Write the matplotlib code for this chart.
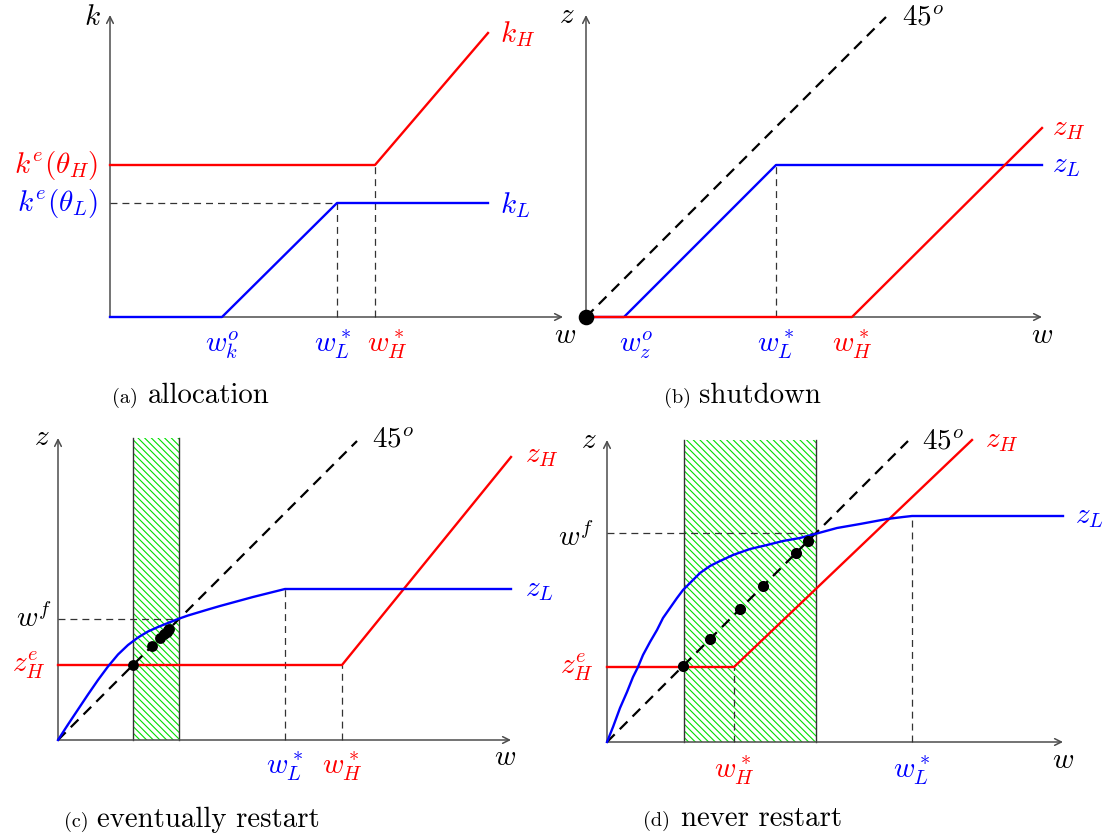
import numpy as np
import matplotlib
matplotlib.use("Agg")
import matplotlib.pyplot as plt
from matplotlib.patches import Rectangle

plt.rcParams["mathtext.fontset"] = "cm"
plt.rcParams["lines.scale_dashes"] = False
plt.rcParams["hatch.linewidth"] = 0.4

W, H = 1117, 836
DPI = 200

RED = "#ff0000"
BLUE = "#0000ff"
GREEN = "#00e000"
AXC = "0.3"

# panel (a) allocation  (units: w to the right, k up, origin at 0)
A_XLEN, A_YLEN = 453, 302
A_KH_W = [0, 265, 378]
A_KH_K = [152, 152, 284]
A_KL_W = [0, 112, 227, 378]
A_KL_K = [0, 0, 114, 114]
A_WKO, A_WL, A_WH = 112, 227, 265
A_KEH, A_KEL = 152, 114

# panel (b) shutdown
B_XLEN, B_YLEN, B_DIAG = 456, 302, 300
B_ZL_W = [0, 38, 190, 456]
B_ZL_Z = [0, 0, 152, 152]
B_ZH_W = [0, 266, 456]
B_ZH_Z = [0, 0, 189]
B_WZO, B_WL, B_WH = 38, 190, 266

# panel (c) eventually restart
C_XLEN, C_YLEN, C_DIAG = 453, 302, 299
C_BAND = (75, 121)
C_ZH_W = [0, 284, 453]
C_ZH_Z = [75, 75, 283]
C_ZL_W = [0, 10, 20, 30, 40, 50, 60, 70, 80, 90, 100, 110, 120, 130, 140,
          150, 162, 195, 227, 453]
C_ZL_Z = [0, 15.5, 30.5, 45.5, 60, 73.5, 85.5, 95, 102.5, 108.5, 113, 117,
          121, 124.5, 127.5, 130.5, 134, 143, 151, 151]
C_WF, C_ZEH, C_WL, C_WH = 121, 75, 227, 284
C_DOTS = [75, 94, 102, 106, 108.5, 110, 111]

# panel (d) never restart
D_XLEN, D_YLEN, D_DIAG = 456, 302, 301
D_BAND = (77, 209)
D_ZH_W = [0, 127, 365]
D_ZH_Z = [75, 75, 302]
D_ZL_W = [0, 6, 13, 20, 26, 31, 36, 43, 50, 56, 63, 70, 76, 83, 93, 103, 113,
          126, 143, 160, 176, 193, 208, 230, 253, 280, 296, 305, 456]
D_ZL_Z = [0, 15, 34, 50, 65, 75, 87, 100, 112, 124, 134, 144, 152, 159, 169,
          176, 181, 187, 193, 197, 201, 204, 208, 214, 218, 223, 225, 226, 226]
D_WF, D_ZEH, D_WH, D_WL = 209, 75, 127, 305
D_DOTS = [76, 103, 133, 156, 189, 201]

FS = 10.5
THIN = dict(color="0.2", lw=0.45, dashes=(2.5, 1.8), zorder=3)
DIAG = dict(color="k", lw=0.8, dashes=(3.9, 2.6), zorder=3)
CURVE = dict(lw=0.85, zorder=4, solid_joinstyle="round")

fig = plt.figure(figsize=(W / DPI, H / DPI), dpi=DPI)


def panel(ox, oy):
    # one unit = one pixel, origin of the diagram at (ox, oy)
    ax = fig.add_axes([0, 0, 1, 1])
    ax.set_xlim(-ox, W - ox)
    ax.set_ylim(oy - H, oy)
    ax.axis("off")
    return ax


def arrows(ax, xlen, ylen):
    for xy in [(xlen, 0), (0, ylen)]:
        ax.annotate("", xy=xy, xytext=(0, 0),
                    arrowprops=dict(arrowstyle="->", color=AXC, lw=0.55,
                                    shrinkA=0, shrinkB=0, mutation_scale=6),
                    zorder=2)


def lab(ax, x, y, s, color="k", ha="center", size=FS):
    ax.text(x, y, s, color=color, ha=ha, va="center", fontsize=size)


def caption(ax, x1, x2, y, tag, words):
    ax.text(x1, y, tag, fontsize=7.3, family="cmr10", va="baseline")
    ax.text(x2, y, words, fontsize=10.4, family="cmr10", va="baseline")


def band(ax, x0, x1, ylen):
    ax.add_patch(Rectangle((x0, 0), x1 - x0, ylen, facecolor="white",
                           edgecolor=GREEN, lw=0, hatch="\\" * 10, zorder=1))
    for x in (x0, x1):
        ax.plot([x, x], [0, ylen], color="0.2", lw=0.5, zorder=2)


# (a) allocation
ax = panel(110, 317)
arrows(ax, A_XLEN, A_YLEN)
ax.plot([0, A_WL], [A_KEL, A_KEL], **THIN)
ax.plot([A_WL, A_WL], [0, A_KEL], **THIN)
ax.plot([A_WH, A_WH], [0, A_KEH], **THIN)
ax.plot(A_KH_W, A_KH_K, color=RED, **CURVE)
ax.plot(A_KL_W, A_KL_K, color=BLUE, **CURVE)
lab(ax, -18, 300, "$k$")
lab(ax, 455, -18, "$w$")
lab(ax, 390, 283, "$k_H$", RED, "left")
lab(ax, 390, 112, "$k_L$", BLUE, "left")
lab(ax, -12, A_KEH, r"$k^e(\theta_H)$", RED, "right")
lab(ax, -12, A_KEL, r"$k^e(\theta_L)$", BLUE, "right")
lab(ax, A_WKO, -28, "$w_k^o$", BLUE)
lab(ax, A_WL - 4, -28, "$w_L^*$", BLUE)
lab(ax, A_WH + 12, -28, "$w_H^*$", RED)
caption(ax, 2, 38, -86, "(a)", "allocation")

# (b) shutdown
ax = panel(586, 317)
arrows(ax, B_XLEN, B_YLEN)
ax.plot([0, B_DIAG], [0, B_DIAG], **DIAG)
ax.plot([B_WL, B_WL], [0, B_ZL_Z[2]], **THIN)
ax.plot(B_ZL_W, B_ZL_Z, color=BLUE, **CURVE)
ax.plot(B_ZH_W, B_ZH_Z, color=RED, lw=0.85, zorder=5)
ax.plot([0], [0], "o", color="k", ms=4.6, zorder=6)
lab(ax, -19, 302, "$z$")
lab(ax, 456, -18, "$w$")
lab(ax, 316, 300, "$45^o$", "k", "left")
lab(ax, 466, 189, "$z_H$", RED, "left")
lab(ax, 466, 152, "$z_L$", BLUE, "left")
lab(ax, B_WZO + 12, -28, "$w_z^o$", BLUE)
lab(ax, B_WL, -28, "$w_L^*$", BLUE)
lab(ax, B_WH, -28, "$w_H^*$", RED)
caption(ax, 78, 113, -86, "(b)", "shutdown")

# (c) eventually restart
ax = panel(58, 740)
band(ax, C_BAND[0], C_BAND[1], C_YLEN)
arrows(ax, C_XLEN, C_YLEN)
ax.plot([0, C_DIAG], [0, C_DIAG], **DIAG)
ax.plot([0, C_WF], [C_WF, C_WF], **THIN)
ax.plot([C_WL, C_WL], [0, C_ZL_Z[-1]], **THIN)
ax.plot([C_WH, C_WH], [0, C_ZEH], **THIN)
ax.plot(C_ZH_W, C_ZH_Z, color=RED, **CURVE)
ax.plot(C_ZL_W, C_ZL_Z, color=BLUE, **CURVE)
ax.plot(C_DOTS, C_DOTS, "o", color="k", ms=2.9, zorder=6)
lab(ax, -16, 303, "$z$")
lab(ax, 447, -17, "$w$")
lab(ax, 314, 300, "$45^o$", "k", "left")
lab(ax, 467, 285, "$z_H$", RED, "left")
lab(ax, 467, 151, "$z_L$", BLUE, "left")
lab(ax, -6, C_WF + 1, "$w^f$", "k", "right")
lab(ax, -12, C_ZEH, "$z^e_H$", RED, "right")
lab(ax, C_WL, -27, "$w_L^*$", BLUE)
lab(ax, C_WH, -27, "$w_H^*$", RED)
caption(ax, 6, 39, -87, "(c)", "eventually restart")

# (d) never restart
ax = panel(607, 742)
band(ax, D_BAND[0], D_BAND[1], D_YLEN)
arrows(ax, D_XLEN, D_YLEN)
ax.plot([0, D_DIAG], [0, D_DIAG], **DIAG)
ax.plot([0, D_WF], [D_WF, D_WF], **THIN)
ax.plot([D_WH, D_WH], [0, D_ZEH], **THIN)
ax.plot([D_WL, D_WL], [0, D_ZL_Z[-1]], **THIN)
ax.plot(D_ZH_W, D_ZH_Z, color=RED, **CURVE)
ax.plot(D_ZL_W, D_ZL_Z, color=BLUE, **CURVE)
ax.plot(D_DOTS, D_DOTS, "o", color="k", ms=3.0, zorder=6)
lab(ax, -18, 302, "$z$")
lab(ax, 456, -18, "$w$")
lab(ax, 315, 300, "$45^o$", "k", "left")
lab(ax, 378, 302, "$z_H$", RED, "left")
lab(ax, 468, 226, "$z_L$", BLUE, "left")
lab(ax, -13, D_WF - 4, "$w^f$", "k", "right")
lab(ax, -13, D_ZEH, "$z^e_H$", RED, "right")
lab(ax, D_WH, -29, "$w_H^*$", RED)
lab(ax, D_WL, -29, "$w_L^*$", BLUE)
caption(ax, 36, 74, -84, "(d)", "never restart")

fig.savefig("out.png", dpi=DPI)
